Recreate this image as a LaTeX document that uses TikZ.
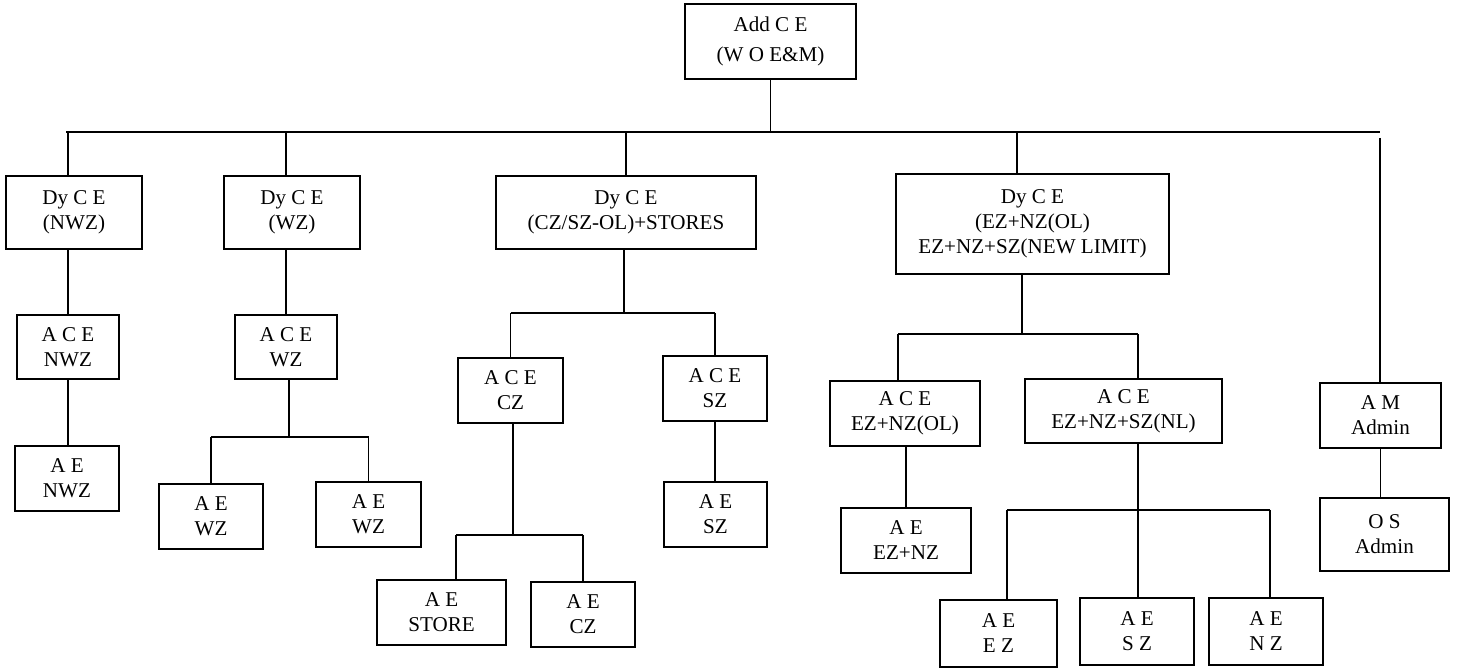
\documentclass[tikz,border=0pt]{standalone}
\usepackage{fontspec}
\setmainfont{Liberation Serif}
\usetikzlibrary{calc}

\begin{document}
\begin{tikzpicture}[
  x=0.02cm, y=-0.02cm,
  post/.style={rectangle, draw, line width=1pt, align=center, inner sep=0pt, font=\fontsize{12}{14.2}\selectfont},
  boxsize/.style 2 args={minimum width=#1*0.02cm, minimum height=#2*0.02cm},
  link/.style={line width=1pt}
]

\useasboundingbox (0,0) rectangle (1472,668);

% ============================================
% TOP POST
% ============================================
\node[post, boxsize={171}{75}] (root) at (770.5,41.5) {Add C E\\[3pt](W O E\&M)};

\coordinate (busL) at (66,132);
\coordinate (busR) at (1380,132);
\draw[link] (root.south) -- (root.south |- busL);
\draw[link] (busL) -- (busR);

% ============================================
% DY C E LEVEL
% ============================================
\node[post, boxsize={136}{73}] (dnwz) at (74,212.5) {Dy C E\\(NWZ)};
\node[post, boxsize={136}{73}] (dwz) at (292,212.5) {Dy C E\\(WZ)};
\node[post, boxsize={260}{73}] (dcz) at (626,212.5) {Dy C E\\(CZ/SZ-OL)+STORES};
\node[post, boxsize={273}{100}] (dez) at (1032.5,224) {Dy C E\\(EZ+NZ(OL)\\EZ+NZ+SZ(NEW LIMIT)};
\node[post, boxsize={121}{65}] (amadm) at (1380.5,415.5) {A M\\Admin};

\coordinate (jnwz) at (68,132);
\coordinate (jwz) at (286,132);
\coordinate (jcz) at (626,132);
\coordinate (jez) at (1017,132);
\coordinate (jadm) at (1380,138);
\foreach \j/\n in {jnwz/dnwz, jwz/dwz, jcz/dcz, jez/dez, jadm/amadm}
  \draw[link] (\j) -- (\j |- \n.north);

% ============================================
% NWZ BRANCH
% ============================================
\node[post, boxsize={102}{64}] (acenwz) at (68,347) {A C E\\NWZ};
\node[post, boxsize={104}{65}] (aenwz) at (67,478.5) {A E\\NWZ};

\draw[link] (dnwz.south -| acenwz) -- (acenwz.north);
\draw[link] (acenwz.south) -- (acenwz.south |- aenwz.north);

% ============================================
% WZ BRANCH
% ============================================
\node[post, boxsize={102}{64}] (acewz) at (286,347) {A C E\\WZ};
\node[post, boxsize={104}{65}] (aewza) at (211,516.5) {A E\\WZ};
\node[post, boxsize={105}{65}] (aewzb) at (368.5,514.5) {A E\\WZ};

\coordinate (wzbus) at (289,437);
\draw[link] (dwz.south -| acewz) -- (acewz.north);
\draw[link] (acewz.south -| wzbus) -- (wzbus);
\draw[link] (aewza |- wzbus) -- (aewzb |- wzbus);
\foreach \n in {aewza, aewzb}
  \draw[link] (\n |- wzbus) -- (\n.north);

% ============================================
% CZ / SZ BRANCH
% ============================================
\node[post, boxsize={105}{65}] (acecz) at (510.5,390.5) {A C E\\CZ};
\node[post, boxsize={104}{65}] (acesz) at (715,388.5) {A C E\\SZ};
\node[post, boxsize={129}{65}] (aestore) at (441.5,612.5) {A E\\STORE};
\node[post, boxsize={104}{65}] (aecz) at (583,614.5) {A E\\CZ};
\node[post, boxsize={103}{65}] (aesz) at (715.5,514.5) {A E\\SZ};

\coordinate (czbus) at (624,313);
\draw[link] (dcz.south -| czbus) -- (czbus);
\draw[link] (acecz |- czbus) -- (acesz |- czbus);
\foreach \n in {acecz, acesz}
  \draw[link] (\n |- czbus) -- (\n.north);

\coordinate (storebus) at (513,535);
\coordinate (jstore) at (456,535);
\draw[link] (acecz.south -| storebus) -- (storebus);
\draw[link] (jstore) -- (aecz |- storebus);
\draw[link] (jstore) -- (jstore |- aestore.north);
\draw[link] (aecz |- storebus) -- (aecz.north);

\draw[link] (acesz.south) -- (acesz.south |- aesz.north);

% ============================================
% EZ / NZ BRANCH
% ============================================
\node[post, boxsize={150}{65}] (aceol) at (905,413.5) {A C E\\EZ+NZ(OL)};
\node[post, boxsize={197}{64}] (acenl) at (1123.5,411) {A C E\\EZ+NZ+SZ(NL)};
\node[post, boxsize={130}{65}] (aeeznz) at (906,540.5) {A E\\EZ+NZ};
\node[post, boxsize={117}{67}] (aeez) at (998.5,633.5) {A E\\E Z};
\node[post, boxsize={114}{67}] (aeszb) at (1137,631.5) {A E\\S Z};
\node[post, boxsize={114}{67}] (aenz) at (1266,631.5) {A E\\N Z};

\coordinate (ezbus) at (1022,334);
\coordinate (jol) at (898,334);
\coordinate (jnl) at (1138,334);
\draw[link] (dez.south -| ezbus) -- (ezbus);
\draw[link] (jol) -- (jnl);
\draw[link] (jol) -- (jol |- aceol.north);
\draw[link] (jnl) -- (jnl |- acenl.north);

\draw[link] (aceol.south -| aeeznz) -- (aeeznz.north);

\coordinate (nlbus) at (1138,510);
\coordinate (jeza) at (1007,510);
\coordinate (jnz) at (1270,510);
\draw[link] (acenl.south -| nlbus) -- (nlbus);
\draw[link] (jeza) -- (jnz);
\draw[link] (jeza) -- (jeza |- aeez.north);
\draw[link] (nlbus) -- (nlbus |- aeszb.north);
\draw[link] (jnz) -- (jnz |- aenz.north);

% ============================================
% ADMIN BRANCH
% ============================================
\node[post, boxsize={129}{73}] (osadm) at (1384.5,534.5) {O S\\Admin};
\draw[link] (amadm.south) -- (amadm.south |- osadm.north);

\end{tikzpicture}
\end{document}
